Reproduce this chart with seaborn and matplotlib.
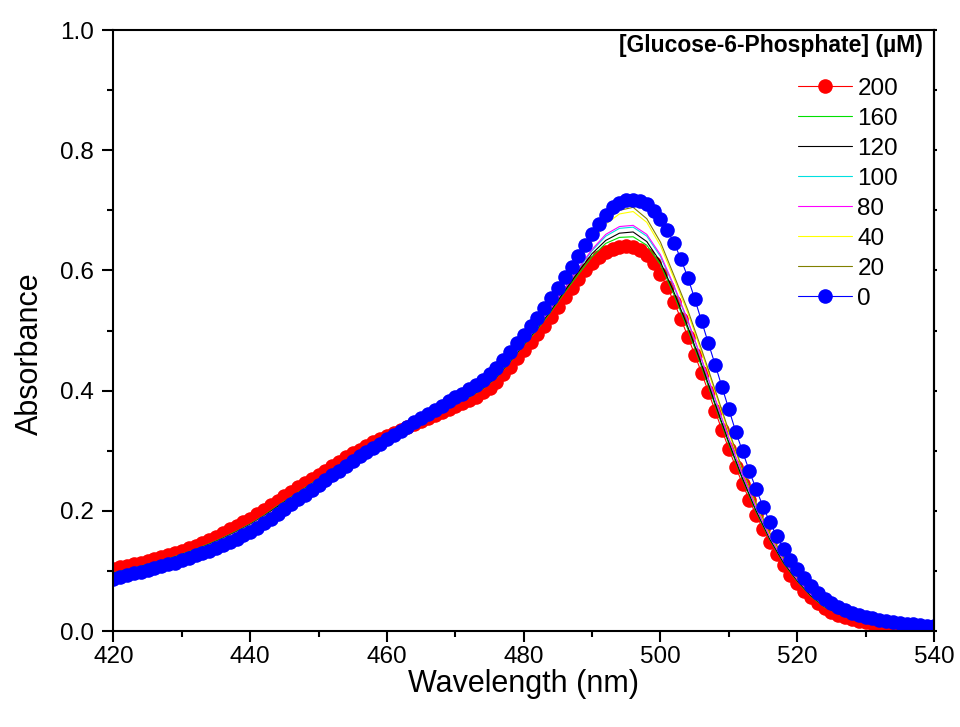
import matplotlib
matplotlib.use("Agg")
import matplotlib.pyplot as plt
from matplotlib.ticker import MultipleLocator, FormatStrFormatter
from matplotlib import font_manager as fm
import seaborn as sns

# ---------------- data ----------------
wavelength = list(range(420, 541))          # 1 nm steps (marker series)
wavelength_lines = list(range(420, 541, 2))  # 2 nm steps (thin line series)

conc_200 = [0.103, 0.106, 0.108, 0.111, 0.114, 0.117, 0.120, 0.123, 0.126, 0.130,
            0.134, 0.138, 0.142, 0.147, 0.152, 0.157, 0.163, 0.169, 0.175, 0.181,
            0.187, 0.194, 0.201, 0.209, 0.216, 0.224, 0.231, 0.239, 0.246, 0.253,
            0.260, 0.267, 0.275, 0.282, 0.289, 0.296, 0.302, 0.308, 0.314, 0.319,
            0.324, 0.329, 0.334, 0.339, 0.344, 0.349, 0.354, 0.359, 0.364, 0.369,
            0.374, 0.379, 0.384, 0.390, 0.397, 0.405, 0.415, 0.427, 0.440, 0.454,
            0.468, 0.481, 0.494, 0.508, 0.523, 0.539, 0.555, 0.571, 0.586, 0.600,
            0.613, 0.623, 0.631, 0.636, 0.639, 0.640, 0.639, 0.634, 0.625, 0.612,
            0.594, 0.572, 0.547, 0.519, 0.490, 0.460, 0.430, 0.398, 0.366, 0.334,
            0.303, 0.273, 0.245, 0.218, 0.193, 0.170, 0.148, 0.128, 0.110, 0.094,
            0.080, 0.067, 0.056, 0.046, 0.038, 0.032, 0.027, 0.023, 0.020, 0.017,
            0.015, 0.013, 0.012, 0.010, 0.009, 0.008, 0.007, 0.006, 0.005, 0.004,
            0.004]

conc_0 = [0.087, 0.090, 0.093, 0.096, 0.099, 0.102, 0.105, 0.108, 0.111, 0.114,
          0.118, 0.122, 0.126, 0.130, 0.134, 0.138, 0.143, 0.148, 0.153, 0.159,
          0.165, 0.172, 0.179, 0.187, 0.195, 0.203, 0.211, 0.219, 0.227, 0.235,
          0.243, 0.251, 0.259, 0.267, 0.275, 0.283, 0.291, 0.298, 0.305, 0.312,
          0.319, 0.326, 0.333, 0.340, 0.347, 0.354, 0.361, 0.368, 0.375, 0.382,
          0.389, 0.395, 0.402, 0.409, 0.417, 0.427, 0.438, 0.451, 0.465, 0.479,
          0.493, 0.507, 0.521, 0.537, 0.554, 0.571, 0.589, 0.606, 0.624, 0.642,
          0.660, 0.677, 0.693, 0.705, 0.713, 0.717, 0.718, 0.716, 0.710, 0.699,
          0.685, 0.667, 0.645, 0.619, 0.588, 0.553, 0.516, 0.479, 0.443, 0.406,
          0.369, 0.332, 0.299, 0.266, 0.236, 0.207, 0.181, 0.158, 0.137, 0.119,
          0.103, 0.088, 0.075, 0.064, 0.054, 0.046, 0.040, 0.035, 0.030, 0.027,
          0.024, 0.021, 0.019, 0.017, 0.015, 0.013, 0.012, 0.011, 0.010, 0.009,
          0.008]

conc_160 = [0.097, 0.102, 0.108, 0.114, 0.120, 0.128, 0.136, 0.145, 0.155, 0.166,
            0.178, 0.192, 0.208, 0.223, 0.238, 0.253, 0.269, 0.283, 0.298, 0.310,
            0.322, 0.334, 0.345, 0.356, 0.367, 0.378, 0.389, 0.403, 0.422, 0.448,
            0.476, 0.502, 0.532, 0.564, 0.594, 0.623, 0.645, 0.655, 0.656, 0.642,
            0.610, 0.559, 0.502, 0.440, 0.375, 0.311, 0.252, 0.198, 0.152, 0.113,
            0.083, 0.058, 0.040, 0.029, 0.021, 0.016, 0.013, 0.010, 0.008, 0.006,
            0.005]

conc_120 = [0.096, 0.101, 0.107, 0.113, 0.119, 0.127, 0.135, 0.144, 0.154, 0.165,
            0.177, 0.191, 0.207, 0.222, 0.237, 0.252, 0.268, 0.283, 0.297, 0.310,
            0.322, 0.334, 0.345, 0.357, 0.368, 0.379, 0.390, 0.404, 0.423, 0.449,
            0.477, 0.504, 0.534, 0.566, 0.598, 0.628, 0.650, 0.662, 0.664, 0.648,
            0.614, 0.563, 0.506, 0.444, 0.378, 0.314, 0.254, 0.200, 0.153, 0.114,
            0.084, 0.059, 0.041, 0.029, 0.022, 0.016, 0.013, 0.010, 0.008, 0.006,
            0.005]

conc_100 = [0.095, 0.100, 0.106, 0.112, 0.118, 0.126, 0.134, 0.143, 0.153, 0.164,
            0.176, 0.190, 0.205, 0.221, 0.236, 0.251, 0.267, 0.282, 0.296, 0.309,
            0.321, 0.333, 0.345, 0.357, 0.369, 0.381, 0.392, 0.406, 0.425, 0.451,
            0.479, 0.506, 0.537, 0.570, 0.602, 0.633, 0.657, 0.670, 0.672, 0.657,
            0.623, 0.572, 0.515, 0.452, 0.385, 0.320, 0.259, 0.204, 0.156, 0.117,
            0.086, 0.061, 0.042, 0.030, 0.023, 0.017, 0.014, 0.011, 0.008, 0.006,
            0.005]

conc_80 = [0.095, 0.100, 0.106, 0.112, 0.118, 0.126, 0.134, 0.143, 0.153, 0.164,
           0.176, 0.190, 0.205, 0.221, 0.236, 0.251, 0.267, 0.282, 0.296, 0.309,
           0.321, 0.333, 0.345, 0.357, 0.369, 0.381, 0.392, 0.406, 0.425, 0.451,
           0.479, 0.506, 0.537, 0.570, 0.604, 0.635, 0.660, 0.673, 0.675, 0.660,
           0.626, 0.574, 0.517, 0.453, 0.387, 0.321, 0.260, 0.205, 0.157, 0.117,
           0.086, 0.061, 0.042, 0.031, 0.023, 0.017, 0.014, 0.011, 0.008, 0.006,
           0.005]

conc_40 = [0.094, 0.100, 0.106, 0.112, 0.118, 0.125, 0.133, 0.142, 0.152, 0.163,
           0.175, 0.189, 0.204, 0.220, 0.236, 0.251, 0.266, 0.281, 0.296, 0.309,
           0.321, 0.333, 0.346, 0.358, 0.371, 0.383, 0.395, 0.409, 0.429, 0.455,
           0.483, 0.510, 0.542, 0.578, 0.614, 0.648, 0.677, 0.694, 0.698, 0.680,
           0.641, 0.586, 0.529, 0.464, 0.397, 0.329, 0.267, 0.210, 0.161, 0.121,
           0.089, 0.064, 0.044, 0.032, 0.024, 0.019, 0.015, 0.011, 0.009, 0.007,
           0.006]

conc_20 = [0.093, 0.099, 0.105, 0.111, 0.117, 0.124, 0.132, 0.141, 0.151, 0.162,
           0.174, 0.188, 0.203, 0.219, 0.235, 0.250, 0.265, 0.281, 0.295, 0.309,
           0.321, 0.333, 0.346, 0.359, 0.372, 0.385, 0.397, 0.411, 0.431, 0.458,
           0.486, 0.513, 0.545, 0.581, 0.618, 0.652, 0.683, 0.700, 0.705, 0.686,
           0.647, 0.591, 0.534, 0.469, 0.401, 0.333, 0.269, 0.212, 0.163, 0.122,
           0.090, 0.065, 0.045, 0.033, 0.025, 0.019, 0.015, 0.012, 0.009, 0.007,
           0.006]

legend_title = "[Glucose-6-Phosphate] (\u00b5M)"
x_ticks = [420, 440, 460, 480, 500, 520, 540]

# ---------------- style ----------------
sns.set_theme(style="ticks")
plt.rcParams["font.family"] = ["Liberation Sans", "DejaVu Sans"]
plt.rcParams.update({
    "text.color": "black", "axes.labelcolor": "black",
    "xtick.color": "black", "ytick.color": "black",
    "axes.edgecolor": "black",
})

available = {f.name for f in fm.fontManager.ttflist}
if "Liberation Sans Narrow" in available:
    title_family, title_size = ["Liberation Sans Narrow", "DejaVu Sans"], 19
else:
    title_family, title_size = ["Liberation Sans", "DejaVu Sans"], 16.5

fig = plt.figure(figsize=(9.6, 7.27), dpi=100)
ax = fig.add_axes([0.1182, 0.1320, 0.8547, 0.8267])

lw = 0.8
ms = 10.5
sns.lineplot(x=wavelength, y=conc_200, ax=ax, color="#ff0000", marker="o",
             markersize=ms, markeredgewidth=0, linewidth=lw, label="200", sort=False)
sns.lineplot(x=wavelength_lines, y=conc_160, ax=ax, color="#00e000", linewidth=lw, label="160", sort=False)
sns.lineplot(x=wavelength_lines, y=conc_120, ax=ax, color="#000000", linewidth=lw, label="120", sort=False)
sns.lineplot(x=wavelength_lines, y=conc_100, ax=ax, color="#00e0e0", linewidth=lw, label="100", sort=False)
sns.lineplot(x=wavelength_lines, y=conc_80, ax=ax, color="#ff00ff", linewidth=lw, label="80", sort=False)
sns.lineplot(x=wavelength_lines, y=conc_40, ax=ax, color="#ffff00", linewidth=lw, label="40", sort=False)
sns.lineplot(x=wavelength_lines, y=conc_20, ax=ax, color="#808000", linewidth=lw, label="20", sort=False)
sns.lineplot(x=wavelength, y=conc_0, ax=ax, color="#0000ff", marker="o",
             markersize=ms, markeredgewidth=0, linewidth=lw, label="0", sort=False)

ax.set_xlim(420, 540)
ax.set_ylim(0, 1.0)
ax.set_xticks(x_ticks)
ax.xaxis.set_minor_locator(MultipleLocator(10))
ax.yaxis.set_major_locator(MultipleLocator(0.2))
ax.yaxis.set_minor_locator(MultipleLocator(0.1))
ax.yaxis.set_major_formatter(FormatStrFormatter("%.1f"))

for s in ax.spines.values():
    s.set_visible(True)
    s.set_linewidth(1.5)
    s.set_color("black")

ax.tick_params(which="major", direction="out", length=8, width=1.5, labelsize=17.5)
ax.tick_params(which="minor", direction="out", length=4.5, width=1.5)
ax.tick_params(axis="x", which="major", pad=3)
ax.tick_params(axis="y", which="major", pad=6)

sec = ax.secondary_yaxis("right")
sec.yaxis.set_major_locator(MultipleLocator(0.2))
sec.yaxis.set_minor_locator(MultipleLocator(0.1))
sec.tick_params(which="both", direction="out", length=2.5, width=1.5, labelright=False)
sec.spines["right"].set_linewidth(1.5)

ax.set_xlabel("Wavelength (nm)", fontsize=22)
ax.set_ylabel("Absorbance", fontsize=22)
ax.xaxis.set_label_coords(0.5, -0.063)
ax.yaxis.set_label_coords(-0.084, 0.461)

handles, labels = ax.get_legend_handles_labels()
ax.legend(handles, labels, loc="upper left", bbox_to_anchor=(0.834, 0.921),
          frameon=False, fontsize=17.5, handlelength=2.25, handletextpad=0.2,
          labelspacing=0.33, borderpad=0, borderaxespad=0)
ax.text(0.9866, 0.975, legend_title, transform=ax.transAxes, ha="right", va="center",
        fontsize=title_size, fontweight="bold", family=title_family)

fig.savefig("out.png", dpi=100)
